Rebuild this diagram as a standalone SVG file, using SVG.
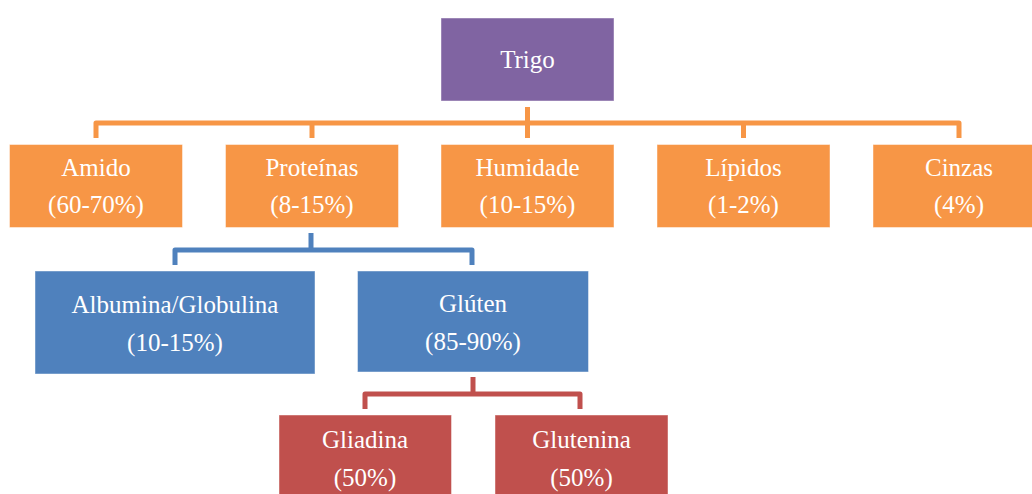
<svg xmlns="http://www.w3.org/2000/svg" width="1032" height="494" viewBox="0 0 1032 494">
<style>
.box{stroke:#ffffff;stroke-opacity:0.45;stroke-width:1}
text{font-family:'Liberation Serif','Times New Roman',Times,serif;font-size:25px;fill:#ffffff;text-anchor:middle}
.c{fill:none;stroke-width:5;stroke-linejoin:round;stroke-linecap:butt}
</style>
<rect width="1032" height="494" fill="#ffffff"/>
<g id="connectors">
<path class="c" stroke="#F79646" d="M527.5,107 V138"/>
<path class="c" stroke="#F79646" d="M96,138 V123 H959 V138"/>
<path class="c" stroke="#F79646" d="M312,123 V138"/>
<path class="c" stroke="#F79646" d="M743.5,123 V138"/>
<path class="c" stroke="#4F81BD" d="M311,233 V250"/>
<path class="c" stroke="#4F81BD" d="M175,265 V250 H472 V265"/>
<path class="c" stroke="#C0504D" d="M473,377 V394"/>
<path class="c" stroke="#C0504D" d="M365,409 V394 H580 V409"/>
</g>
<g id="trigo">
<rect class="box" x="441" y="18" width="173" height="83" fill="#8064A2"/>
<text x="527.5" y="68" font-family="Liberation Serif, serif">Trigo</text>
</g>
<g id="amido">
<rect class="box" x="9.5" y="144.5" width="173" height="83" fill="#F79646"/>
<text x="96" y="176">Amido</text>
<text x="96" y="213">(60-70%)</text>
</g>
<g id="proteinas">
<rect class="box" x="225.5" y="144.5" width="173" height="83" fill="#F79646"/>
<text x="312" y="176">Proteínas</text>
<text x="312" y="213">(8-15%)</text>
</g>
<g id="humidade">
<rect class="box" x="441" y="144.5" width="173" height="83" fill="#F79646"/>
<text x="527.5" y="176">Humidade</text>
<text x="527.5" y="213">(10-15%)</text>
</g>
<g id="lipidos">
<rect class="box" x="657" y="144.5" width="173" height="83" fill="#F79646"/>
<text x="743.5" y="176">Lípidos</text>
<text x="743.5" y="213">(1-2%)</text>
</g>
<g id="cinzas">
<rect class="box" x="873" y="144.5" width="173" height="83" fill="#F79646"/>
<text x="959" y="176">Cinzas</text>
<text x="959" y="213">(4%)</text>
</g>
<g id="albumina">
<rect class="box" x="35" y="271" width="280" height="103" fill="#4F81BD"/>
<text x="175" y="312.5">Albumina/Globulina</text>
<text x="175" y="350.5">(10-15%)</text>
</g>
<g id="gluten">
<rect class="box" x="357.5" y="271" width="231" height="101" fill="#4F81BD"/>
<text x="473" y="312">Glúten</text>
<text x="473" y="350">(85-90%)</text>
</g>
<g id="gliadina">
<rect class="box" x="279" y="415" width="172.5" height="84" fill="#C0504D"/>
<text x="365" y="447.5">Gliadina</text>
<text x="365" y="485.5">(50%)</text>
</g>
<g id="glutenina">
<rect class="box" x="495" y="415" width="173" height="84" fill="#C0504D"/>
<text x="581.5" y="447.5">Glutenina</text>
<text x="581.5" y="485.5">(50%)</text>
</g>
</svg>
